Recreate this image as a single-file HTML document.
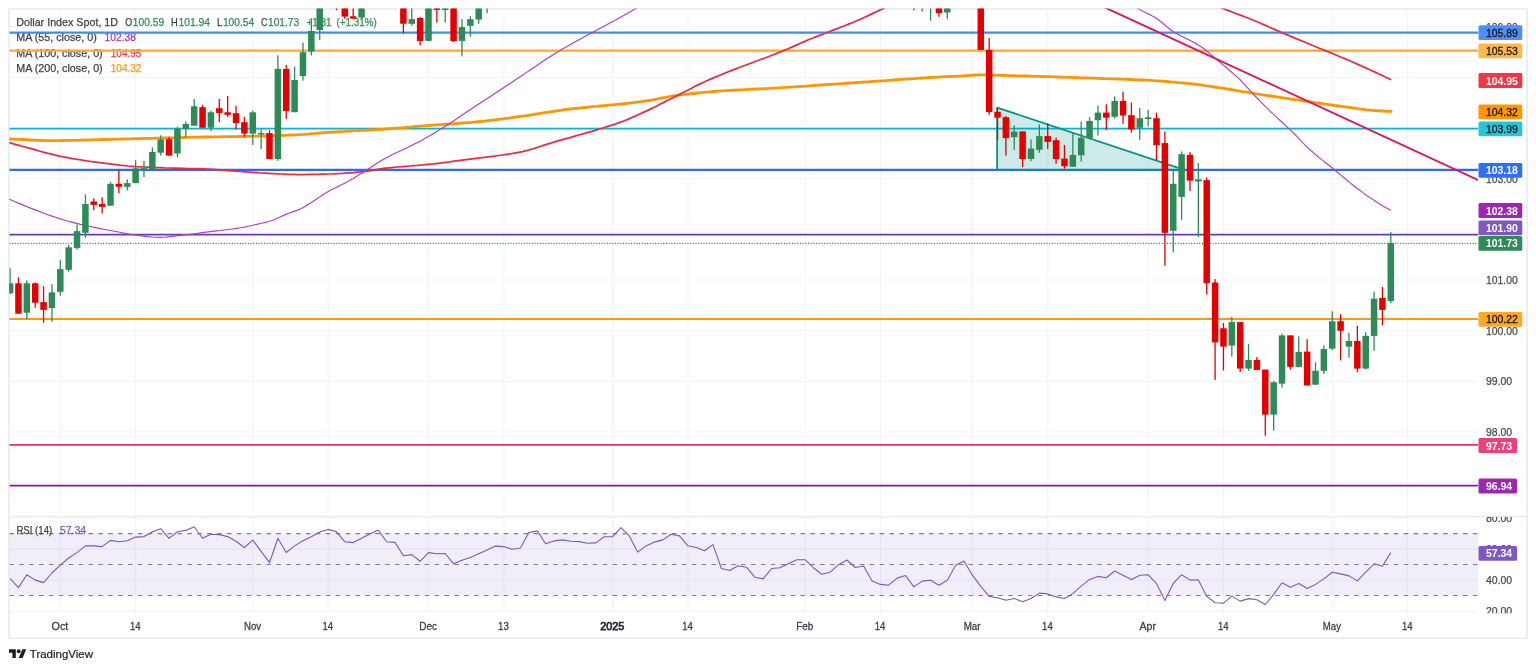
<!DOCTYPE html>
<html lang="en"><head><meta charset="utf-8"><title>Dollar Index Spot, 1D</title>
<style>html,body{margin:0;padding:0;background:#fff}body{width:1536px;height:670px;overflow:hidden;font-family:"Liberation Sans",sans-serif}svg{display:block;will-change:transform}text{font-family:"Liberation Sans",sans-serif}</style>
</head><body>
<svg width="1536" height="670" viewBox="0 0 1536 670">
<defs>
<clipPath id="cm"><rect x="9.3" y="8.5" width="1468.7" height="507.5"/></clipPath>
<clipPath id="cr"><rect x="9.3" y="517.0" width="1468.7" height="95.0"/></clipPath>
<clipPath id="ca"><rect x="1478.0" y="8.5" width="50" height="507.5"/></clipPath>
<clipPath id="cb"><rect x="1478.0" y="517.0" width="50" height="96.29999999999995"/></clipPath>
</defs>
<rect width="1536" height="670" fill="#fff"/>
<rect x="9" y="9" width="1518" height="629.2" fill="none" stroke="#eceef3" stroke-width="2"/>
<line x1="9.5" y1="516.5" x2="1526.5" y2="516.5" stroke="#e3e6ee" stroke-width="1.1"/>
<g stroke="#f1f3f5" stroke-width="1">
<line x1="60.4" y1="8.5" x2="60.4" y2="612.0"/>
<line x1="135.7" y1="8.5" x2="135.7" y2="612.0"/>
<line x1="252.9" y1="8.5" x2="252.9" y2="612.0"/>
<line x1="328.2" y1="8.5" x2="328.2" y2="612.0"/>
<line x1="428.6" y1="8.5" x2="428.6" y2="612.0"/>
<line x1="503.9" y1="8.5" x2="503.9" y2="612.0"/>
<line x1="612.7" y1="8.5" x2="612.7" y2="612.0"/>
<line x1="688.0" y1="8.5" x2="688.0" y2="612.0"/>
<line x1="805.2" y1="8.5" x2="805.2" y2="612.0"/>
<line x1="880.5" y1="8.5" x2="880.5" y2="612.0"/>
<line x1="972.5" y1="8.5" x2="972.5" y2="612.0"/>
<line x1="1047.8" y1="8.5" x2="1047.8" y2="612.0"/>
<line x1="1148.2" y1="8.5" x2="1148.2" y2="612.0"/>
<line x1="1223.6" y1="8.5" x2="1223.6" y2="612.0"/>
<line x1="1332.3" y1="8.5" x2="1332.3" y2="612.0"/>
<line x1="1407.6" y1="8.5" x2="1407.6" y2="612.0"/>
<line x1="9.3" y1="482.5" x2="1478.0" y2="482.5"/>
<line x1="9.3" y1="431.9" x2="1478.0" y2="431.9"/>
<line x1="9.3" y1="381.3" x2="1478.0" y2="381.3"/>
<line x1="9.3" y1="330.6" x2="1478.0" y2="330.6"/>
<line x1="9.3" y1="280.0" x2="1478.0" y2="280.0"/>
<line x1="9.3" y1="229.4" x2="1478.0" y2="229.4"/>
<line x1="9.3" y1="178.8" x2="1478.0" y2="178.8"/>
<line x1="9.3" y1="128.1" x2="1478.0" y2="128.1"/>
<line x1="9.3" y1="77.5" x2="1478.0" y2="77.5"/>
<line x1="9.3" y1="26.9" x2="1478.0" y2="26.9"/>
<line x1="9.3" y1="518.4" x2="1478.0" y2="518.4"/>
<line x1="9.3" y1="549" x2="1478.0" y2="549"/>
<line x1="9.3" y1="580.2" x2="1478.0" y2="580.2"/>
<line x1="9.3" y1="611.3" x2="1478.0" y2="611.3"/>
</g>
<g>
<text x="16.2" y="26.1" font-size="11.3" fill="#3c3f48" textLength="101.9" lengthAdjust="spacingAndGlyphs" stroke="#3c3f48" stroke-width="0.25">Dollar Index Spot, 1D</text>
<text x="125.3" y="26.1" font-size="11.3" fill="#3c3f48" textLength="6.9" lengthAdjust="spacingAndGlyphs" stroke="#3c3f48" stroke-width="0.25">O</text>
<text x="132.8" y="26.1" font-size="11.3" fill="#2e8b57" textLength="31.3" lengthAdjust="spacingAndGlyphs" stroke="#2e8b57" stroke-width="0.25">100.59</text>
<text x="171.0" y="26.1" font-size="11.3" fill="#3c3f48" textLength="6.8" lengthAdjust="spacingAndGlyphs" stroke="#3c3f48" stroke-width="0.25">H</text>
<text x="178.4" y="26.1" font-size="11.3" fill="#2e8b57" textLength="31.7" lengthAdjust="spacingAndGlyphs" stroke="#2e8b57" stroke-width="0.25">101.94</text>
<text x="217.0" y="26.1" font-size="11.3" fill="#3c3f48" textLength="5.3" lengthAdjust="spacingAndGlyphs" stroke="#3c3f48" stroke-width="0.25">L</text>
<text x="222.9" y="26.1" font-size="11.3" fill="#2e8b57" textLength="31.3" lengthAdjust="spacingAndGlyphs" stroke="#2e8b57" stroke-width="0.25">100.54</text>
<text x="260.9" y="26.1" font-size="11.3" fill="#3c3f48" textLength="6.5" lengthAdjust="spacingAndGlyphs" stroke="#3c3f48" stroke-width="0.25">C</text>
<text x="268.0" y="26.1" font-size="11.3" fill="#2e8b57" textLength="31.1" lengthAdjust="spacingAndGlyphs" stroke="#2e8b57" stroke-width="0.25">101.73</text>
<text x="306.4" y="26.1" font-size="11.3" fill="#2e8b57" textLength="25.3" lengthAdjust="spacingAndGlyphs" stroke="#2e8b57" stroke-width="0.25">+1.31</text>
<text x="336.5" y="26.1" font-size="11.3" fill="#2e8b57" textLength="40.4" lengthAdjust="spacingAndGlyphs" stroke="#2e8b57" stroke-width="0.25">(+1.31%)</text>
<text x="16.2" y="41.4" font-size="11.3" fill="#3c3f48" textLength="80.6" lengthAdjust="spacingAndGlyphs" stroke="#3c3f48" stroke-width="0.25">MA (55, close, 0)</text>
<text x="104.6" y="41.4" font-size="11.3" fill="#a436b8" textLength="31.3" lengthAdjust="spacingAndGlyphs" stroke="#a436b8" stroke-width="0.25">102.38</text>
<text x="16.2" y="56.8" font-size="11.3" fill="#3c3f48" textLength="86.5" lengthAdjust="spacingAndGlyphs" stroke="#3c3f48" stroke-width="0.25">MA (100, close, 0)</text>
<text x="110.8" y="56.8" font-size="11.3" fill="#f23645" textLength="30.5" lengthAdjust="spacingAndGlyphs" stroke="#f23645" stroke-width="0.25">104.95</text>
<text x="16.2" y="72.1" font-size="11.3" fill="#3c3f48" textLength="86.5" lengthAdjust="spacingAndGlyphs" stroke="#3c3f48" stroke-width="0.25">MA (200, close, 0)</text>
<text x="110.8" y="72.1" font-size="11.3" fill="#ff9800" textLength="30.5" lengthAdjust="spacingAndGlyphs" stroke="#ff9800" stroke-width="0.25">104.32</text>
</g>
<g clip-path="url(#cm)">
<line x1="9.3" y1="32.60" x2="1478.0" y2="32.60" stroke="#428bf5" stroke-width="2.3"/>
<line x1="9.3" y1="50.70" x2="1478.0" y2="50.70" stroke="#ffa72f" stroke-width="2.3"/>
<line x1="9.3" y1="128.60" x2="1478.0" y2="128.60" stroke="#05b7cf" stroke-width="1.6"/>
<line x1="9.3" y1="169.90" x2="1478.0" y2="169.90" stroke="#2d69f5" stroke-width="2.1"/>
<line x1="9.3" y1="234.70" x2="1478.0" y2="234.70" stroke="#673ab7" stroke-width="1.7"/>
<line x1="9.3" y1="243.40" x2="1478.0" y2="243.40" stroke="#2e8b57" stroke-width="1.1" stroke-dasharray="1.1 1.58"/>
<line x1="9.3" y1="319.00" x2="1478.0" y2="319.00" stroke="#ff980a" stroke-width="1.8"/>
<line x1="9.3" y1="444.95" x2="1478.0" y2="444.95" stroke="#e82d69" stroke-width="1.8"/>
<line x1="9.3" y1="485.55" x2="1478.0" y2="485.55" stroke="#8e12a4" stroke-width="1.8"/>
<polygon points="997.1,107.6 997.1,169.8 1184.3,169.8" fill="#009688" fill-opacity="0.2" stroke="#069485" stroke-width="1.75" stroke-linejoin="round"/>
<polyline points="-5.0,138.5 -1.0,138.6 3.0,138.7 7.0,138.8 11.0,139.0 15.1,139.1 19.1,139.3 23.1,139.5 27.1,139.7 31.1,140.0 35.1,140.1 39.1,140.3 43.1,140.5 47.2,140.6 51.2,140.6 55.2,140.6 59.2,140.6 63.2,140.5 67.2,140.4 71.2,140.4 75.2,140.3 79.2,140.2 83.3,140.0 87.3,139.9 91.3,139.8 95.3,139.7 99.3,139.6 103.3,139.5 107.3,139.4 111.3,139.3 115.4,139.2 119.4,139.1 123.4,139.0 127.4,138.9 131.4,138.8 135.4,138.7 139.4,138.6 143.4,138.5 147.4,138.4 151.5,138.3 155.5,138.2 159.5,138.1 163.5,138.0 167.5,137.9 171.5,137.8 175.5,137.7 179.5,137.6 183.6,137.5 187.6,137.4 191.6,137.3 195.6,137.2 199.6,137.1 203.6,137.0 207.6,137.0 211.6,136.9 215.6,136.8 219.7,136.8 223.7,136.7 227.7,136.7 231.7,136.6 235.7,136.6 239.7,136.5 243.7,136.4 247.7,136.4 251.8,136.3 255.8,136.2 259.8,136.1 263.8,136.0 267.8,135.9 271.8,135.8 275.8,135.6 279.8,135.5 283.8,135.3 287.9,135.2 291.9,135.0 295.9,134.8 299.9,134.6 303.9,134.4 307.9,134.1 311.9,133.7 315.9,133.4 320.0,133.0 324.0,132.7 328.0,132.4 332.0,132.1 336.0,131.8 340.0,131.6 344.0,131.4 348.0,131.1 352.0,130.9 356.1,130.7 360.1,130.5 364.1,130.3 368.1,130.0 372.1,129.8 376.1,129.6 380.1,129.3 384.1,129.1 388.2,128.8 392.2,128.5 396.2,128.2 400.2,127.9 404.2,127.6 408.2,127.2 412.2,126.9 416.2,126.5 420.2,126.1 424.3,125.8 428.3,125.5 432.3,125.2 436.3,124.9 440.3,124.6 444.3,124.3 448.3,124.0 452.3,123.8 456.4,123.5 460.4,123.2 464.4,122.9 468.4,122.6 472.4,122.3 476.4,121.9 480.4,121.5 484.4,121.1 488.4,120.6 492.5,120.1 496.5,119.6 500.5,119.1 504.5,118.6 508.5,118.1 512.5,117.5 516.5,117.0 520.5,116.4 524.6,115.9 528.6,115.3 532.6,114.7 536.6,114.0 540.6,113.4 544.6,112.7 548.6,112.1 552.6,111.5 556.6,110.8 560.7,110.3 564.7,109.7 568.7,109.2 572.7,108.7 576.7,108.3 580.7,107.9 584.7,107.5 588.7,107.1 592.8,106.7 596.8,106.4 600.8,106.0 604.8,105.6 608.8,105.2 612.8,104.8 616.8,104.4 620.8,104.0 624.8,103.6 628.9,103.1 632.9,102.7 636.9,102.2 640.9,101.7 644.9,101.1 648.9,100.5 652.9,99.8 656.9,99.0 661.0,98.2 665.0,97.5 669.0,96.7 673.0,96.0 677.0,95.4 681.0,94.9 685.0,94.4 689.0,93.9 693.0,93.5 697.1,93.0 701.1,92.6 705.1,92.2 709.1,91.9 713.1,91.5 717.1,91.2 721.1,90.9 725.1,90.7 729.2,90.4 733.2,90.2 737.2,90.0 741.2,89.8 745.2,89.6 749.2,89.4 753.2,89.2 757.2,89.0 761.3,88.8 765.3,88.6 769.3,88.4 773.3,88.1 777.3,87.9 781.3,87.6 785.3,87.4 789.3,87.1 793.3,86.9 797.4,86.6 801.4,86.3 805.4,86.1 809.4,85.8 813.4,85.5 817.4,85.2 821.4,85.0 825.4,84.7 829.5,84.4 833.5,84.1 837.5,83.9 841.5,83.6 845.5,83.3 849.5,83.0 853.5,82.8 857.5,82.5 861.5,82.2 865.6,81.9 869.6,81.7 873.6,81.4 877.6,81.1 881.6,80.8 885.6,80.6 889.6,80.3 893.6,80.0 897.7,79.7 901.7,79.4 905.7,79.1 909.7,78.8 913.7,78.6 917.7,78.3 921.7,78.0 925.7,77.8 929.7,77.5 933.8,77.3 937.8,77.1 941.8,76.9 945.8,76.7 949.8,76.5 953.8,76.3 957.8,76.1 961.8,75.9 965.9,75.6 969.9,75.3 973.9,75.0 977.9,74.8 981.9,74.8 985.9,74.9 989.9,75.0 993.9,75.1 997.9,75.2 1002.0,75.3 1006.0,75.5 1010.0,75.6 1014.0,75.7 1018.0,75.8 1022.0,75.9 1026.0,76.0 1030.0,76.1 1034.1,76.3 1038.1,76.4 1042.1,76.5 1046.1,76.6 1050.1,76.7 1054.1,76.9 1058.1,77.0 1062.1,77.1 1066.1,77.3 1070.2,77.4 1074.2,77.5 1078.2,77.6 1082.2,77.8 1086.2,77.9 1090.2,78.1 1094.2,78.2 1098.2,78.3 1102.3,78.5 1106.3,78.6 1110.3,78.8 1114.3,78.9 1118.3,79.0 1122.3,79.2 1126.3,79.3 1130.3,79.5 1134.3,79.7 1138.4,79.8 1142.4,80.0 1146.4,80.2 1150.4,80.4 1154.4,80.7 1158.4,80.9 1162.4,81.2 1166.4,81.5 1170.5,81.9 1174.5,82.2 1178.5,82.6 1182.5,82.9 1186.5,83.3 1190.5,83.7 1194.5,84.2 1198.5,84.7 1202.5,85.2 1206.6,85.8 1210.6,86.4 1214.6,87.0 1218.6,87.6 1222.6,88.2 1226.6,88.9 1230.6,89.5 1234.6,90.2 1238.7,90.9 1242.7,91.6 1246.7,92.2 1250.7,92.9 1254.7,93.6 1258.7,94.2 1262.7,94.8 1266.7,95.4 1270.7,96.0 1274.8,96.6 1278.8,97.2 1282.8,97.8 1286.8,98.4 1290.8,99.0 1294.8,99.6 1298.8,100.2 1302.8,100.8 1306.9,101.4 1310.9,102.0 1314.9,102.6 1318.9,103.1 1322.9,103.7 1326.9,104.3 1330.9,104.9 1334.9,105.5 1338.9,106.0 1343.0,106.6 1347.0,107.1 1351.0,107.6 1355.0,108.2 1359.0,108.8 1363.0,109.3 1367.0,109.8 1371.0,110.2 1375.1,110.5 1379.1,110.8 1383.1,111.0 1387.1,111.3 1391.1,111.4" fill="none" stroke="#ff9500" stroke-width="2.8" stroke-linecap="round" stroke-linejoin="round"/>
<polyline points="-5.0,139.0 -1.0,140.0 3.1,141.0 7.1,142.1 11.1,143.2 15.1,144.3 19.2,145.4 23.2,146.5 27.2,147.6 31.2,148.7 35.3,149.8 39.3,151.0 43.3,152.1 47.3,153.2 51.4,154.2 55.4,155.2 59.4,156.1 63.5,156.9 67.5,157.7 71.5,158.4 75.5,159.1 79.6,159.7 83.6,160.4 87.6,161.0 91.6,161.6 95.7,162.1 99.7,162.7 103.7,163.2 107.7,163.7 111.8,164.2 115.8,164.7 119.8,165.2 123.8,165.6 127.9,166.0 131.9,166.3 135.9,166.6 140.0,166.8 144.0,167.0 148.0,167.2 152.0,167.4 156.1,167.6 160.1,167.7 164.1,167.9 168.1,168.0 172.2,168.1 176.2,168.2 180.2,168.3 184.2,168.4 188.3,168.5 192.3,168.5 196.3,168.6 200.4,168.7 204.4,168.9 208.4,169.1 212.4,169.3 216.5,169.6 220.5,169.9 224.5,170.3 228.5,170.6 232.6,170.9 236.6,171.3 240.6,171.5 244.6,171.8 248.7,172.1 252.7,172.4 256.7,172.7 260.8,173.0 264.8,173.2 268.8,173.4 272.8,173.6 276.9,173.8 280.9,174.0 284.9,174.2 288.9,174.3 293.0,174.4 297.0,174.5 301.0,174.5 305.0,174.5 309.1,174.4 313.1,174.4 317.1,174.3 321.2,174.2 325.2,174.1 329.2,174.0 333.2,173.9 337.3,173.7 341.3,173.5 345.3,173.2 349.3,172.9 353.4,172.6 357.4,172.2 361.4,171.8 365.4,171.4 369.5,170.8 373.5,170.2 377.5,169.4 381.5,168.7 385.6,168.2 389.6,167.8 393.6,167.4 397.7,167.0 401.7,166.7 405.7,166.3 409.7,166.0 413.8,165.7 417.8,165.4 421.8,165.0 425.8,164.6 429.9,164.2 433.9,163.8 437.9,163.3 441.9,162.8 446.0,162.3 450.0,161.8 454.0,161.2 458.1,160.7 462.1,160.2 466.1,159.6 470.1,159.1 474.2,158.6 478.2,158.1 482.2,157.6 486.2,157.1 490.3,156.6 494.3,156.1 498.3,155.5 502.3,155.0 506.4,154.4 510.4,153.8 514.4,153.1 518.5,152.4 522.5,151.6 526.5,150.6 530.5,149.5 534.6,148.3 538.6,147.0 542.6,145.7 546.6,144.4 550.7,143.1 554.7,141.9 558.7,140.7 562.7,139.6 566.8,138.4 570.8,137.3 574.8,136.2 578.8,135.0 582.9,133.9 586.9,132.7 590.9,131.6 595.0,130.4 599.0,129.2 603.0,128.0 607.0,126.7 611.1,125.4 615.1,124.1 619.1,122.7 623.1,121.2 627.2,119.6 631.2,117.9 635.2,116.1 639.2,114.3 643.3,112.4 647.3,110.6 651.3,108.6 655.4,106.7 659.4,104.6 663.4,102.6 667.4,100.5 671.5,98.5 675.5,96.4 679.5,94.4 683.5,92.3 687.6,90.3 691.6,88.2 695.6,86.1 699.6,84.1 703.7,82.2 707.7,80.3 711.7,78.6 715.8,76.9 719.8,75.2 723.8,73.6 727.8,72.0 731.9,70.4 735.9,68.9 739.9,67.3 743.9,65.8 748.0,64.2 752.0,62.7 756.0,61.2 760.0,59.7 764.1,58.2 768.1,56.7 772.1,55.2 776.2,53.6 780.2,52.0 784.2,50.4 788.2,48.7 792.3,46.9 796.3,45.1 800.3,43.3 804.3,41.6 808.4,39.8 812.4,38.2 816.4,36.6 820.4,35.1 824.5,33.5 828.5,32.0 832.5,30.4 836.5,28.9 840.6,27.3 844.6,25.7 848.6,24.1 852.7,22.5 856.7,20.8 860.7,19.0 864.7,17.2 868.8,15.4 872.8,13.4 876.8,11.5 880.8,9.6 884.9,7.7 888.9,5.8 892.9,3.8 896.9,1.9 901.0,-0.0 905.0,-2.0" fill="none" stroke="#ef2a40" stroke-width="1.75" stroke-linejoin="round"/>
<polyline points="1196.0,-3.0 1200.2,-1.2 1204.3,0.6 1208.5,2.4 1212.6,4.2 1216.8,5.9 1220.9,7.6 1225.1,9.3 1229.2,10.9 1233.4,12.5 1237.5,14.1 1241.7,15.6 1245.8,17.2 1250.0,18.8 1254.1,20.5 1258.3,22.3 1262.4,24.1 1266.6,25.9 1270.7,27.7 1274.9,29.6 1279.0,31.4 1283.2,33.2 1287.3,34.9 1291.5,36.6 1295.6,38.4 1299.8,40.1 1303.9,41.8 1308.1,43.5 1312.2,45.3 1316.4,47.0 1320.5,48.7 1324.7,50.4 1328.8,52.1 1333.0,53.8 1337.1,55.5 1341.3,57.2 1345.4,58.9 1349.6,60.7 1353.7,62.5 1357.9,64.4 1362.0,66.2 1366.2,68.1 1370.3,70.0 1374.5,71.9 1378.6,73.8 1382.8,75.8 1386.9,77.8 1391.1,79.8" fill="none" stroke="#ef2a40" stroke-width="1.75" stroke-linejoin="round"/>
<polyline points="-5.0,193.0 -1.0,194.8 3.0,196.5 7.1,198.3 11.1,200.0 15.1,201.7 19.1,203.4 23.2,205.1 27.2,206.8 31.2,208.4 35.2,209.9 39.3,211.5 43.3,213.0 47.3,214.5 51.3,215.9 55.4,217.3 59.4,218.6 63.4,219.8 67.4,221.0 71.5,222.1 75.5,223.1 79.5,224.1 83.5,225.1 87.6,226.0 91.6,226.8 95.6,227.6 99.6,228.4 103.7,229.2 107.7,230.0 111.7,230.7 115.7,231.5 119.8,232.3 123.8,233.1 127.8,233.8 131.8,234.5 135.9,235.0 139.9,235.6 143.9,236.1 147.9,236.6 152.0,237.0 156.0,237.3 160.0,237.4 164.0,237.3 168.0,236.9 172.1,236.4 176.1,235.9 180.1,235.4 184.1,234.9 188.2,234.5 192.2,234.0 196.2,233.5 200.2,232.9 204.3,232.4 208.3,231.9 212.3,231.4 216.3,230.9 220.4,230.5 224.4,230.0 228.4,229.5 232.4,229.0 236.5,228.4 240.5,227.8 244.5,227.1 248.5,226.2 252.6,225.3 256.6,224.4 260.6,223.5 264.6,222.6 268.7,221.5 272.7,220.2 276.7,218.5 280.7,216.7 284.8,214.9 288.8,213.3 292.8,211.9 296.8,210.4 300.9,208.7 304.9,206.6 308.9,204.1 312.9,201.4 317.0,198.7 321.0,195.9 325.0,193.4 329.0,191.1 333.0,188.9 337.1,186.9 341.1,184.9 345.1,182.9 349.1,180.8 353.2,178.5 357.2,176.0 361.2,173.5 365.2,171.0 369.3,168.4 373.3,165.7 377.3,163.0 381.3,160.5 385.4,158.3 389.4,156.2 393.4,154.1 397.4,152.2 401.5,150.3 405.5,148.4 409.5,146.5 413.5,144.5 417.6,142.5 421.6,140.4 425.6,138.1 429.6,135.8 433.7,133.4 437.7,131.0 441.7,128.5 445.7,126.0 449.8,123.4 453.8,120.7 457.8,118.0 461.8,115.2 465.9,112.5 469.9,109.9 473.9,107.2 477.9,104.6 482.0,101.9 486.0,99.3 490.0,96.7 494.0,94.0 498.0,91.4 502.1,88.7 506.1,86.1 510.1,83.5 514.1,80.8 518.2,78.1 522.2,75.4 526.2,72.6 530.2,69.9 534.3,67.2 538.3,64.5 542.3,61.8 546.3,59.1 550.4,56.5 554.4,54.0 558.4,51.5 562.4,49.1 566.5,46.8 570.5,44.5 574.5,42.2 578.5,40.0 582.6,37.8 586.6,35.6 590.6,33.4 594.6,31.2 598.7,29.0 602.7,26.9 606.7,24.8 610.7,22.6 614.8,20.5 618.8,18.3 622.8,16.0 626.8,13.7 630.9,11.4 634.9,9.1 638.9,6.7 642.9,4.3 647.0,1.9 651.0,-0.5 655.0,-3.0" fill="none" stroke="#ab40bf" stroke-width="1.15" stroke-linejoin="round"/>
<polyline points="1122.0,-3.0 1126.1,0.2 1130.2,3.2 1134.2,6.0 1138.3,8.6 1142.4,10.9 1146.5,12.9 1150.5,14.9 1154.6,17.2 1158.7,20.0 1162.8,23.3 1166.8,26.8 1170.9,30.0 1175.0,32.7 1179.1,35.0 1183.1,37.1 1187.2,39.1 1191.3,41.1 1195.4,43.3 1199.4,45.7 1203.5,48.5 1207.6,51.7 1211.7,55.1 1215.7,58.6 1219.8,62.1 1223.9,65.6 1228.0,69.0 1232.0,72.5 1236.1,76.1 1240.2,79.9 1244.3,84.1 1248.3,88.6 1252.4,93.2 1256.5,97.5 1260.6,101.7 1264.7,105.8 1268.7,109.8 1272.8,113.7 1276.9,117.6 1281.0,121.3 1285.0,125.0 1289.1,128.8 1293.2,132.7 1297.3,136.9 1301.3,141.2 1305.4,145.3 1309.5,149.3 1313.6,152.9 1317.6,156.3 1321.7,159.6 1325.8,162.7 1329.9,166.0 1333.9,169.3 1338.0,172.7 1342.1,176.1 1346.2,179.5 1350.2,182.9 1354.3,186.2 1358.4,189.3 1362.5,192.4 1366.5,195.3 1370.6,198.1 1374.7,200.8 1378.8,203.5 1382.8,205.9 1386.9,208.2 1391.0,210.2" fill="none" stroke="#ab40bf" stroke-width="1.15" stroke-linejoin="round"/>
<line x1="1095" y1="2.94" x2="1479" y2="180.42" stroke="#e81054" stroke-width="1.9"/>
<rect x="9.44" y="268.2" width="1.3" height="25.8" fill="#2e8b57"/>
<rect x="6.84" y="283.3" width="6.5" height="10.0" fill="#2e8b57"/>
<rect x="17.81" y="277.1" width="1.3" height="36.6" fill="#e50000"/>
<rect x="15.21" y="283.3" width="6.5" height="30.4" fill="#e50000"/>
<rect x="26.18" y="280.4" width="1.3" height="38.6" fill="#2e8b57"/>
<rect x="23.58" y="283.3" width="6.5" height="29.4" fill="#2e8b57"/>
<rect x="34.55" y="282.4" width="1.3" height="25.3" fill="#e50000"/>
<rect x="31.95" y="283.3" width="6.5" height="19.4" fill="#e50000"/>
<rect x="42.91" y="286.2" width="1.3" height="36.6" fill="#e50000"/>
<rect x="40.31" y="302.1" width="6.5" height="7.8" fill="#e50000"/>
<rect x="51.28" y="284.1" width="1.3" height="37.7" fill="#2e8b57"/>
<rect x="48.68" y="292.4" width="6.5" height="15.7" fill="#2e8b57"/>
<rect x="59.65" y="260.1" width="1.3" height="35.5" fill="#2e8b57"/>
<rect x="57.05" y="269.1" width="6.5" height="22.7" fill="#2e8b57"/>
<rect x="68.02" y="245.0" width="1.3" height="26.6" fill="#2e8b57"/>
<rect x="65.42" y="247.3" width="6.5" height="22.5" fill="#2e8b57"/>
<rect x="76.39" y="224.4" width="1.3" height="25.2" fill="#2e8b57"/>
<rect x="73.79" y="231.1" width="6.5" height="16.8" fill="#2e8b57"/>
<rect x="84.75" y="194.3" width="1.3" height="43.5" fill="#2e8b57"/>
<rect x="82.15" y="204.0" width="6.5" height="28.8" fill="#2e8b57"/>
<rect x="93.12" y="198.2" width="1.3" height="12.0" fill="#e50000"/>
<rect x="90.52" y="201.5" width="6.5" height="3.4" fill="#e50000"/>
<rect x="101.49" y="197.2" width="1.3" height="16.4" fill="#e50000"/>
<rect x="98.89" y="203.9" width="6.5" height="3.0" fill="#e50000"/>
<rect x="109.86" y="182.1" width="1.3" height="23.6" fill="#2e8b57"/>
<rect x="107.26" y="183.8" width="6.5" height="21.9" fill="#2e8b57"/>
<rect x="118.23" y="170.1" width="1.3" height="23.1" fill="#e50000"/>
<rect x="115.63" y="183.8" width="6.5" height="3.0" fill="#e50000"/>
<rect x="126.59" y="179.3" width="1.3" height="11.2" fill="#2e8b57"/>
<rect x="123.99" y="183.1" width="6.5" height="3.7" fill="#2e8b57"/>
<rect x="134.96" y="160.1" width="1.3" height="23.0" fill="#2e8b57"/>
<rect x="132.36" y="168.4" width="6.5" height="14.7" fill="#2e8b57"/>
<rect x="143.33" y="160.9" width="1.3" height="16.2" fill="#2e8b57"/>
<rect x="140.73" y="168.1" width="6.5" height="1.2" fill="#2e8b57"/>
<rect x="151.70" y="147.4" width="1.3" height="22.4" fill="#2e8b57"/>
<rect x="149.10" y="152.0" width="6.5" height="17.6" fill="#2e8b57"/>
<rect x="160.07" y="135.3" width="1.3" height="20.3" fill="#2e8b57"/>
<rect x="157.47" y="139.4" width="6.5" height="13.3" fill="#2e8b57"/>
<rect x="168.43" y="136.9" width="1.3" height="18.7" fill="#e50000"/>
<rect x="165.83" y="139.1" width="6.5" height="16.5" fill="#e50000"/>
<rect x="176.80" y="126.9" width="1.3" height="30.1" fill="#2e8b57"/>
<rect x="174.20" y="128.6" width="6.5" height="24.9" fill="#2e8b57"/>
<rect x="185.17" y="121.4" width="1.3" height="15.9" fill="#2e8b57"/>
<rect x="182.57" y="124.0" width="6.5" height="4.9" fill="#2e8b57"/>
<rect x="193.54" y="99.0" width="1.3" height="26.7" fill="#2e8b57"/>
<rect x="190.94" y="106.3" width="6.5" height="19.4" fill="#2e8b57"/>
<rect x="201.91" y="104.8" width="1.3" height="22.9" fill="#e50000"/>
<rect x="199.31" y="107.2" width="6.5" height="20.5" fill="#e50000"/>
<rect x="210.27" y="110.5" width="1.3" height="20.6" fill="#2e8b57"/>
<rect x="207.67" y="112.3" width="6.5" height="15.4" fill="#2e8b57"/>
<rect x="218.64" y="99.0" width="1.3" height="23.2" fill="#e50000"/>
<rect x="216.04" y="108.2" width="6.5" height="4.8" fill="#e50000"/>
<rect x="227.01" y="96.0" width="1.3" height="20.9" fill="#e50000"/>
<rect x="224.41" y="112.3" width="6.5" height="2.5" fill="#e50000"/>
<rect x="235.38" y="106.0" width="1.3" height="23.4" fill="#e50000"/>
<rect x="232.78" y="113.2" width="6.5" height="9.8" fill="#e50000"/>
<rect x="243.75" y="116.9" width="1.3" height="20.0" fill="#e50000"/>
<rect x="241.15" y="122.2" width="6.5" height="11.4" fill="#e50000"/>
<rect x="252.11" y="110.5" width="1.3" height="34.4" fill="#2e8b57"/>
<rect x="249.51" y="112.3" width="6.5" height="21.3" fill="#2e8b57"/>
<rect x="260.48" y="129.4" width="1.3" height="19.7" fill="#2e8b57"/>
<rect x="257.88" y="133.1" width="6.5" height="1.4" fill="#2e8b57"/>
<rect x="268.85" y="130.2" width="1.3" height="28.8" fill="#e50000"/>
<rect x="266.25" y="133.1" width="6.5" height="25.9" fill="#e50000"/>
<rect x="277.22" y="55.2" width="1.3" height="105.6" fill="#2e8b57"/>
<rect x="274.62" y="68.9" width="6.5" height="90.1" fill="#2e8b57"/>
<rect x="285.59" y="64.9" width="1.3" height="54.0" fill="#e50000"/>
<rect x="282.99" y="69.0" width="6.5" height="42.0" fill="#e50000"/>
<rect x="293.95" y="66.7" width="1.3" height="45.5" fill="#2e8b57"/>
<rect x="291.35" y="80.0" width="6.5" height="32.2" fill="#2e8b57"/>
<rect x="302.32" y="42.6" width="1.3" height="38.1" fill="#2e8b57"/>
<rect x="299.72" y="52.2" width="6.5" height="23.8" fill="#2e8b57"/>
<rect x="310.69" y="18.2" width="1.3" height="37.2" fill="#2e8b57"/>
<rect x="308.09" y="31.0" width="6.5" height="20.6" fill="#2e8b57"/>
<rect x="319.06" y="-10.0" width="1.3" height="50.1" fill="#2e8b57"/>
<rect x="316.46" y="-10.0" width="6.5" height="40.0" fill="#2e8b57"/>
<rect x="335.79" y="-10.0" width="1.3" height="20.2" fill="#e50000"/>
<rect x="333.19" y="-10.0" width="6.5" height="10.0" fill="#e50000"/>
<rect x="344.16" y="-10.0" width="1.3" height="28.8" fill="#e50000"/>
<rect x="341.56" y="-10.0" width="6.5" height="26.6" fill="#e50000"/>
<rect x="352.53" y="-10.0" width="1.3" height="28.8" fill="#e50000"/>
<rect x="349.93" y="16.3" width="6.5" height="2.3" fill="#e50000"/>
<rect x="360.90" y="-10.0" width="1.3" height="28.8" fill="#2e8b57"/>
<rect x="358.30" y="-10.0" width="6.5" height="27.6" fill="#2e8b57"/>
<rect x="402.74" y="-10.0" width="1.3" height="43.5" fill="#e50000"/>
<rect x="400.14" y="-10.0" width="6.5" height="33.7" fill="#e50000"/>
<rect x="411.11" y="-10.0" width="1.3" height="35.8" fill="#2e8b57"/>
<rect x="408.51" y="19.2" width="6.5" height="4.6" fill="#2e8b57"/>
<rect x="419.47" y="16.9" width="1.3" height="28.5" fill="#e50000"/>
<rect x="416.87" y="18.0" width="6.5" height="23.0" fill="#e50000"/>
<rect x="427.84" y="-10.0" width="1.3" height="50.9" fill="#2e8b57"/>
<rect x="425.24" y="-10.0" width="6.5" height="50.9" fill="#2e8b57"/>
<rect x="436.21" y="-10.0" width="1.3" height="32.6" fill="#e50000"/>
<rect x="433.61" y="-10.0" width="6.5" height="19.9" fill="#e50000"/>
<rect x="444.58" y="-10.0" width="1.3" height="32.4" fill="#2e8b57"/>
<rect x="441.98" y="-10.0" width="6.5" height="20.0" fill="#2e8b57"/>
<rect x="452.95" y="-10.0" width="1.3" height="52.0" fill="#e50000"/>
<rect x="450.35" y="-10.0" width="6.5" height="51.1" fill="#e50000"/>
<rect x="461.31" y="19.1" width="1.3" height="37.4" fill="#2e8b57"/>
<rect x="458.71" y="27.1" width="6.5" height="13.8" fill="#2e8b57"/>
<rect x="469.68" y="16.2" width="1.3" height="20.5" fill="#2e8b57"/>
<rect x="467.08" y="19.2" width="6.5" height="6.6" fill="#2e8b57"/>
<rect x="478.05" y="-10.0" width="1.3" height="33.8" fill="#2e8b57"/>
<rect x="475.45" y="-10.0" width="6.5" height="29.5" fill="#2e8b57"/>
<rect x="486.42" y="-10.0" width="1.3" height="23.3" fill="#2e8b57"/>
<rect x="483.82" y="-10.0" width="6.5" height="10.0" fill="#2e8b57"/>
<rect x="913.19" y="-10.0" width="1.3" height="20.2" fill="#e50000"/>
<rect x="910.59" y="-10.0" width="6.5" height="10.0" fill="#e50000"/>
<rect x="921.55" y="-10.0" width="1.3" height="21.6" fill="#2e8b57"/>
<rect x="918.95" y="-10.0" width="6.5" height="10.0" fill="#2e8b57"/>
<rect x="929.92" y="-10.0" width="1.3" height="30.7" fill="#2e8b57"/>
<rect x="927.32" y="-10.0" width="6.5" height="10.0" fill="#2e8b57"/>
<rect x="938.29" y="-10.0" width="1.3" height="26.9" fill="#e50000"/>
<rect x="935.69" y="-10.0" width="6.5" height="23.2" fill="#e50000"/>
<rect x="946.66" y="-10.0" width="1.3" height="28.8" fill="#2e8b57"/>
<rect x="944.06" y="-10.0" width="6.5" height="22.5" fill="#2e8b57"/>
<rect x="980.13" y="-10.0" width="1.3" height="59.9" fill="#e50000"/>
<rect x="977.53" y="-10.0" width="6.5" height="59.9" fill="#e50000"/>
<rect x="988.50" y="38.0" width="1.3" height="76.8" fill="#e50000"/>
<rect x="985.90" y="49.9" width="6.5" height="62.2" fill="#e50000"/>
<rect x="996.87" y="108.1" width="1.3" height="31.8" fill="#e50000"/>
<rect x="994.27" y="111.8" width="6.5" height="5.9" fill="#e50000"/>
<rect x="1005.23" y="116.0" width="1.3" height="39.6" fill="#e50000"/>
<rect x="1002.63" y="117.2" width="6.5" height="20.9" fill="#e50000"/>
<rect x="1013.60" y="125.2" width="1.3" height="24.6" fill="#2e8b57"/>
<rect x="1011.00" y="131.5" width="6.5" height="5.7" fill="#2e8b57"/>
<rect x="1021.97" y="131.4" width="1.3" height="35.6" fill="#e50000"/>
<rect x="1019.37" y="131.4" width="6.5" height="27.6" fill="#e50000"/>
<rect x="1030.34" y="139.4" width="1.3" height="21.7" fill="#2e8b57"/>
<rect x="1027.74" y="148.6" width="6.5" height="10.4" fill="#2e8b57"/>
<rect x="1038.71" y="124.3" width="1.3" height="28.5" fill="#2e8b57"/>
<rect x="1036.11" y="136.1" width="6.5" height="13.7" fill="#2e8b57"/>
<rect x="1047.07" y="123.5" width="1.3" height="25.4" fill="#e50000"/>
<rect x="1044.47" y="136.1" width="6.5" height="5.8" fill="#e50000"/>
<rect x="1055.44" y="137.7" width="1.3" height="25.9" fill="#e50000"/>
<rect x="1052.84" y="140.2" width="6.5" height="18.8" fill="#e50000"/>
<rect x="1063.81" y="144.9" width="1.3" height="23.8" fill="#e50000"/>
<rect x="1061.21" y="158.6" width="6.5" height="7.6" fill="#e50000"/>
<rect x="1072.18" y="133.2" width="1.3" height="33.5" fill="#2e8b57"/>
<rect x="1069.58" y="154.9" width="6.5" height="11.8" fill="#2e8b57"/>
<rect x="1080.55" y="121.5" width="1.3" height="40.1" fill="#2e8b57"/>
<rect x="1077.95" y="137.7" width="6.5" height="17.6" fill="#2e8b57"/>
<rect x="1088.91" y="117.3" width="1.3" height="22.1" fill="#2e8b57"/>
<rect x="1086.31" y="121.0" width="6.5" height="17.2" fill="#2e8b57"/>
<rect x="1097.28" y="105.5" width="1.3" height="30.1" fill="#2e8b57"/>
<rect x="1094.68" y="112.6" width="6.5" height="7.6" fill="#2e8b57"/>
<rect x="1105.65" y="104.3" width="1.3" height="25.9" fill="#e50000"/>
<rect x="1103.05" y="112.6" width="6.5" height="5.1" fill="#e50000"/>
<rect x="1114.02" y="96.3" width="1.3" height="22.2" fill="#2e8b57"/>
<rect x="1111.42" y="100.9" width="6.5" height="15.9" fill="#2e8b57"/>
<rect x="1122.39" y="91.7" width="1.3" height="32.1" fill="#e50000"/>
<rect x="1119.79" y="100.9" width="6.5" height="14.6" fill="#e50000"/>
<rect x="1130.75" y="102.6" width="1.3" height="30.1" fill="#e50000"/>
<rect x="1128.15" y="115.2" width="6.5" height="14.2" fill="#e50000"/>
<rect x="1139.12" y="108.1" width="1.3" height="31.8" fill="#2e8b57"/>
<rect x="1136.52" y="118.2" width="6.5" height="9.5" fill="#2e8b57"/>
<rect x="1147.49" y="109.8" width="1.3" height="16.7" fill="#2e8b57"/>
<rect x="1144.89" y="117.3" width="6.5" height="1.7" fill="#2e8b57"/>
<rect x="1155.86" y="112.6" width="1.3" height="47.6" fill="#e50000"/>
<rect x="1153.26" y="118.2" width="6.5" height="27.0" fill="#e50000"/>
<rect x="1164.23" y="131.5" width="1.3" height="134.3" fill="#e50000"/>
<rect x="1161.63" y="143.1" width="6.5" height="89.7" fill="#e50000"/>
<rect x="1172.59" y="170.9" width="1.3" height="81.5" fill="#2e8b57"/>
<rect x="1169.99" y="183.8" width="6.5" height="47.0" fill="#2e8b57"/>
<rect x="1180.96" y="151.4" width="1.3" height="68.5" fill="#2e8b57"/>
<rect x="1178.36" y="154.2" width="6.5" height="42.7" fill="#2e8b57"/>
<rect x="1189.33" y="152.1" width="1.3" height="38.9" fill="#e50000"/>
<rect x="1186.73" y="154.8" width="6.5" height="25.8" fill="#e50000"/>
<rect x="1197.70" y="163.1" width="1.3" height="73.9" fill="#2e8b57"/>
<rect x="1195.10" y="179.3" width="6.5" height="2.2" fill="#2e8b57"/>
<rect x="1206.07" y="177.5" width="1.3" height="117.0" fill="#e50000"/>
<rect x="1203.47" y="180.1" width="6.5" height="103.1" fill="#e50000"/>
<rect x="1214.43" y="279.1" width="1.3" height="100.9" fill="#e50000"/>
<rect x="1211.83" y="282.5" width="6.5" height="59.9" fill="#e50000"/>
<rect x="1222.80" y="323.0" width="1.3" height="47.5" fill="#e50000"/>
<rect x="1220.20" y="328.3" width="6.5" height="18.3" fill="#e50000"/>
<rect x="1231.17" y="316.8" width="1.3" height="39.8" fill="#2e8b57"/>
<rect x="1228.57" y="322.1" width="6.5" height="23.5" fill="#2e8b57"/>
<rect x="1239.54" y="322.1" width="1.3" height="50.0" fill="#e50000"/>
<rect x="1236.94" y="322.1" width="6.5" height="46.5" fill="#e50000"/>
<rect x="1247.91" y="343.8" width="1.3" height="27.0" fill="#2e8b57"/>
<rect x="1245.31" y="359.9" width="6.5" height="8.7" fill="#2e8b57"/>
<rect x="1256.27" y="357.1" width="1.3" height="12.9" fill="#e50000"/>
<rect x="1253.67" y="359.9" width="6.5" height="10.1" fill="#e50000"/>
<rect x="1264.64" y="369.6" width="1.3" height="66.1" fill="#e50000"/>
<rect x="1262.04" y="369.6" width="6.5" height="45.0" fill="#e50000"/>
<rect x="1273.01" y="381.3" width="1.3" height="49.4" fill="#2e8b57"/>
<rect x="1270.41" y="382.2" width="6.5" height="32.4" fill="#2e8b57"/>
<rect x="1281.38" y="333.8" width="1.3" height="53.7" fill="#2e8b57"/>
<rect x="1278.78" y="335.4" width="6.5" height="48.3" fill="#2e8b57"/>
<rect x="1289.75" y="335.4" width="1.3" height="34.1" fill="#e50000"/>
<rect x="1287.15" y="335.4" width="6.5" height="31.5" fill="#e50000"/>
<rect x="1298.11" y="336.4" width="1.3" height="31.0" fill="#2e8b57"/>
<rect x="1295.51" y="351.9" width="6.5" height="15.0" fill="#2e8b57"/>
<rect x="1306.48" y="339.1" width="1.3" height="46.4" fill="#e50000"/>
<rect x="1303.88" y="351.6" width="6.5" height="33.9" fill="#e50000"/>
<rect x="1314.85" y="362.4" width="1.3" height="22.3" fill="#2e8b57"/>
<rect x="1312.25" y="370.8" width="6.5" height="13.9" fill="#2e8b57"/>
<rect x="1323.22" y="345.4" width="1.3" height="28.4" fill="#2e8b57"/>
<rect x="1320.62" y="349.1" width="6.5" height="21.7" fill="#2e8b57"/>
<rect x="1331.59" y="311.3" width="1.3" height="38.6" fill="#2e8b57"/>
<rect x="1328.99" y="321.3" width="6.5" height="27.4" fill="#2e8b57"/>
<rect x="1339.95" y="314.1" width="1.3" height="46.3" fill="#e50000"/>
<rect x="1337.35" y="321.3" width="6.5" height="9.5" fill="#e50000"/>
<rect x="1348.32" y="332.7" width="1.3" height="25.0" fill="#2e8b57"/>
<rect x="1345.72" y="341.0" width="6.5" height="5.6" fill="#2e8b57"/>
<rect x="1356.69" y="325.8" width="1.3" height="46.3" fill="#e50000"/>
<rect x="1354.09" y="341.0" width="6.5" height="27.6" fill="#e50000"/>
<rect x="1365.06" y="332.2" width="1.3" height="37.3" fill="#2e8b57"/>
<rect x="1362.46" y="335.8" width="6.5" height="32.8" fill="#2e8b57"/>
<rect x="1373.43" y="291.5" width="1.3" height="59.2" fill="#2e8b57"/>
<rect x="1370.83" y="298.7" width="6.5" height="37.2" fill="#2e8b57"/>
<rect x="1381.79" y="287.0" width="1.3" height="38.5" fill="#e50000"/>
<rect x="1379.19" y="297.9" width="6.5" height="12.0" fill="#e50000"/>
<rect x="1390.16" y="232.0" width="1.3" height="70.9" fill="#2e8b57"/>
<rect x="1387.56" y="243.0" width="6.5" height="57.9" fill="#2e8b57"/>
</g>
<g clip-path="url(#cr)">
<rect x="9.3" y="533.5" width="1468.7" height="62" fill="#7e57c2" fill-opacity="0.1"/>
<line x1="9.31" y1="533.6" x2="1478.0" y2="533.6" stroke="#7d808a" stroke-width="1.05" stroke-dasharray="4.6 5.289"/>
<line x1="9.31" y1="564.5" x2="1478.0" y2="564.5" stroke="#7d808a" stroke-width="1.05" stroke-dasharray="4.6 5.289"/>
<line x1="9.31" y1="595.5" x2="1478.0" y2="595.5" stroke="#7d808a" stroke-width="1.05" stroke-dasharray="4.6 5.289"/>
<polyline points="10.1,578.6 18.5,587.6 26.8,574.7 35.2,580.1 43.6,582.6 51.9,573.0 60.3,565.2 68.7,558.0 77.0,552.6 85.4,545.9 93.8,545.9 102.1,546.6 110.5,540.4 118.9,541.8 127.2,540.8 135.6,537.1 144.0,536.6 152.3,532.1 160.7,528.7 169.1,538.4 177.5,531.7 185.8,530.4 194.2,526.7 202.6,538.3 210.9,534.2 219.3,534.6 227.7,536.6 236.0,541.3 244.4,547.5 252.8,540.1 261.1,551.3 269.5,562.7 277.9,538.3 286.2,552.5 294.6,545.9 303.0,540.8 311.3,536.7 319.7,532.1 328.1,529.4 336.4,531.6 344.8,541.8 353.2,542.6 361.5,538.3 369.9,534.1 378.3,530.1 386.7,541.8 395.0,542.4 403.4,555.8 411.8,554.6 420.1,561.3 428.5,552.6 436.9,553.8 445.2,553.5 453.6,563.8 462.0,560.2 470.3,557.5 478.7,553.8 487.1,550.1 495.4,546.1 503.8,546.6 512.2,549.3 520.5,548.0 528.9,532.6 537.3,530.9 545.6,543.8 554.0,540.9 562.4,539.9 570.7,541.3 579.1,541.6 587.5,543.3 595.9,542.9 604.2,536.7 612.6,536.7 621.0,527.6 629.3,535.9 637.7,552.1 646.1,545.9 654.4,542.1 662.8,539.9 671.2,534.2 679.5,535.9 687.9,545.8 696.3,547.5 704.6,550.8 713.0,544.6 721.4,568.5 729.7,570.5 738.1,565.7 746.5,567.2 754.8,577.2 763.2,578.9 771.6,568.5 779.9,567.7 788.3,563.8 796.7,559.7 805.1,559.7 813.4,567.7 821.8,574.2 830.2,572.2 838.5,564.7 846.9,560.0 855.3,567.5 863.6,566.0 872.0,580.9 880.4,584.4 888.7,585.2 897.1,578.1 905.5,575.5 913.8,586.9 922.2,581.1 930.6,580.2 938.9,585.2 947.3,580.2 955.7,565.2 964.0,561.0 972.4,575.2 980.8,586.4 989.1,596.4 997.5,597.8 1005.9,600.3 1014.3,598.5 1022.6,601.8 1031.0,598.5 1039.4,593.1 1047.7,593.9 1056.1,596.9 1064.5,598.5 1072.8,593.6 1081.2,586.1 1089.6,579.4 1097.9,576.4 1106.3,577.7 1114.7,571.0 1123.0,575.2 1131.4,579.4 1139.8,575.2 1148.1,574.7 1156.5,583.6 1164.9,600.6 1173.2,583.4 1181.6,574.7 1190.0,580.1 1198.3,579.7 1206.7,596.4 1215.1,602.8 1223.5,603.1 1231.8,596.1 1240.2,601.1 1248.6,598.6 1256.9,599.8 1265.3,604.5 1273.7,594.4 1282.0,582.7 1290.4,587.3 1298.8,583.6 1307.1,588.4 1315.5,584.4 1323.9,578.9 1332.2,572.2 1340.6,573.9 1349.0,575.9 1357.3,580.9 1365.7,572.2 1374.1,563.8 1382.4,566.3 1390.8,552.6" fill="none" stroke="#7e57c2" stroke-width="1.1" stroke-linejoin="round"/>
</g>
<text x="16.4" y="534.1" font-size="10.8" fill="#3c3f48" textLength="35.8" lengthAdjust="spacingAndGlyphs" stroke="#3c3f48" stroke-width="0.25">RSI (14)</text>
<text x="59.9" y="534.1" font-size="10.8" fill="#7e57c2" textLength="26.2" lengthAdjust="spacingAndGlyphs" stroke="#7e57c2" stroke-width="0.25">57.34</text>
<g clip-path="url(#ca)">
<text x="1486.0" y="486.5" font-size="11" fill="#484b54" textLength="26.2" lengthAdjust="spacingAndGlyphs" stroke="#484b54" stroke-width="0.25">97.00</text>
<text x="1486.0" y="435.9" font-size="11" fill="#484b54" textLength="26.2" lengthAdjust="spacingAndGlyphs" stroke="#484b54" stroke-width="0.25">98.00</text>
<text x="1486.0" y="385.3" font-size="11" fill="#484b54" textLength="26.2" lengthAdjust="spacingAndGlyphs" stroke="#484b54" stroke-width="0.25">99.00</text>
<text x="1486.0" y="334.6" font-size="11" fill="#484b54" textLength="31.8" lengthAdjust="spacingAndGlyphs" stroke="#484b54" stroke-width="0.25">100.00</text>
<text x="1486.0" y="284.0" font-size="11" fill="#484b54" textLength="31.8" lengthAdjust="spacingAndGlyphs" stroke="#484b54" stroke-width="0.25">101.00</text>
<text x="1486.0" y="233.4" font-size="11" fill="#484b54" textLength="31.8" lengthAdjust="spacingAndGlyphs" stroke="#484b54" stroke-width="0.25">102.00</text>
<text x="1486.0" y="182.8" font-size="11" fill="#484b54" textLength="31.8" lengthAdjust="spacingAndGlyphs" stroke="#484b54" stroke-width="0.25">103.00</text>
<text x="1486.0" y="132.1" font-size="11" fill="#484b54" textLength="31.8" lengthAdjust="spacingAndGlyphs" stroke="#484b54" stroke-width="0.25">104.00</text>
<text x="1486.0" y="81.5" font-size="11" fill="#484b54" textLength="31.8" lengthAdjust="spacingAndGlyphs" stroke="#484b54" stroke-width="0.25">105.00</text>
<text x="1486.0" y="30.9" font-size="11" fill="#484b54" textLength="31.8" lengthAdjust="spacingAndGlyphs" stroke="#484b54" stroke-width="0.25">106.00</text>
</g>
<g clip-path="url(#cb)">
<text x="1486.0" y="522.0" font-size="11" fill="#484b54" textLength="26.2" lengthAdjust="spacingAndGlyphs" stroke="#484b54" stroke-width="0.25">80.00</text>
<text x="1486.0" y="553.0" font-size="11" fill="#484b54" textLength="26.2" lengthAdjust="spacingAndGlyphs" stroke="#484b54" stroke-width="0.25">60.00</text>
<text x="1486.0" y="584.3" font-size="11" fill="#484b54" textLength="26.2" lengthAdjust="spacingAndGlyphs" stroke="#484b54" stroke-width="0.25">40.00</text>
<text x="1486.0" y="615.0" font-size="11" fill="#484b54" textLength="26.2" lengthAdjust="spacingAndGlyphs" stroke="#484b54" stroke-width="0.25">20.00</text>
</g>
<rect x="1478.5" y="25.2" width="43.8" height="14.8" rx="1.5" fill="#4d8ff6"/>
<text x="1486.0" y="36.6" font-size="11" fill="#15171c" textLength="31.8" lengthAdjust="spacingAndGlyphs" stroke="#15171c" stroke-width="0.3">105.89</text>
<rect x="1478.5" y="43.4" width="43.8" height="14.8" rx="1.5" fill="#ffb74d"/>
<text x="1486.0" y="54.8" font-size="11" fill="#15171c" textLength="31.8" lengthAdjust="spacingAndGlyphs" stroke="#15171c" stroke-width="0.3">105.53</text>
<rect x="1478.5" y="73.1" width="43.8" height="14.8" rx="1.5" fill="#f23645"/>
<text x="1486.0" y="84.5" font-size="11" fill="#fff" font-weight="700" textLength="31.8" lengthAdjust="spacingAndGlyphs">104.95</text>
<rect x="1478.5" y="104.5" width="43.8" height="14.8" rx="1.5" fill="#ff9800"/>
<text x="1486.0" y="115.9" font-size="11" fill="#15171c" textLength="31.8" lengthAdjust="spacingAndGlyphs" stroke="#15171c" stroke-width="0.3">104.32</text>
<rect x="1478.5" y="121.5" width="43.8" height="14.8" rx="1.5" fill="#26c6da"/>
<text x="1486.0" y="132.9" font-size="11" fill="#15171c" textLength="31.8" lengthAdjust="spacingAndGlyphs" stroke="#15171c" stroke-width="0.3">103.99</text>
<rect x="1478.5" y="163.0" width="43.8" height="14.8" rx="1.5" fill="#2f6ef7"/>
<text x="1486.0" y="174.4" font-size="11" fill="#fff" font-weight="700" textLength="31.8" lengthAdjust="spacingAndGlyphs">103.18</text>
<rect x="1478.5" y="203.1" width="43.8" height="14.8" rx="1.5" fill="#9c27b0"/>
<text x="1486.0" y="214.5" font-size="11" fill="#fff" font-weight="700" textLength="31.8" lengthAdjust="spacingAndGlyphs">102.38</text>
<rect x="1478.5" y="220.4" width="43.8" height="14.8" rx="1.5" fill="#7e57c2"/>
<text x="1486.0" y="231.8" font-size="11" fill="#fff" font-weight="700" textLength="31.8" lengthAdjust="spacingAndGlyphs">101.90</text>
<rect x="1478.5" y="235.9" width="43.8" height="14.8" rx="1.5" fill="#2e8b57"/>
<text x="1486.0" y="247.3" font-size="11" fill="#fff" font-weight="700" textLength="31.8" lengthAdjust="spacingAndGlyphs">101.73</text>
<rect x="1478.5" y="312.0" width="43.8" height="14.8" rx="1.5" fill="#ffa726"/>
<text x="1486.0" y="323.4" font-size="11" fill="#15171c" textLength="31.8" lengthAdjust="spacingAndGlyphs" stroke="#15171c" stroke-width="0.3">100.22</text>
<rect x="1478.5" y="438.1" width="38.5" height="14.8" rx="1.5" fill="#ec407a"/>
<text x="1486.0" y="449.5" font-size="11" fill="#fff" font-weight="700" textLength="26.2" lengthAdjust="spacingAndGlyphs">97.73</text>
<rect x="1478.5" y="478.6" width="38.5" height="14.8" rx="1.5" fill="#9c27b0"/>
<text x="1486.0" y="490.0" font-size="11" fill="#fff" font-weight="700" textLength="26.2" lengthAdjust="spacingAndGlyphs">96.94</text>
<rect x="1478.5" y="546.0" width="38.5" height="14.8" rx="1.5" fill="#7e57c2"/>
<text x="1486.0" y="557.4" font-size="11" fill="#fff" font-weight="700" textLength="26.2" lengthAdjust="spacingAndGlyphs">57.34</text>
<text x="51.6" y="629.5" font-size="11" fill="#3c3f48" textLength="16.7" lengthAdjust="spacingAndGlyphs" stroke="#3c3f48" stroke-width="0.3">Oct</text>
<text x="130.0" y="629.5" font-size="11" fill="#3c3f48" textLength="10.6" lengthAdjust="spacingAndGlyphs" stroke="#3c3f48" stroke-width="0.3">14</text>
<text x="243.9" y="629.5" font-size="11" fill="#3c3f48" textLength="17.2" lengthAdjust="spacingAndGlyphs" stroke="#3c3f48" stroke-width="0.3">Nov</text>
<text x="322.5" y="629.5" font-size="11" fill="#3c3f48" textLength="10.6" lengthAdjust="spacingAndGlyphs" stroke="#3c3f48" stroke-width="0.3">14</text>
<text x="419.3" y="629.5" font-size="11" fill="#3c3f48" textLength="17.7" lengthAdjust="spacingAndGlyphs" stroke="#3c3f48" stroke-width="0.3">Dec</text>
<text x="498.1" y="629.5" font-size="11" fill="#3c3f48" textLength="10.8" lengthAdjust="spacingAndGlyphs" stroke="#3c3f48" stroke-width="0.3">13</text>
<text x="600.2" y="629.5" font-size="11" fill="#2a2d35" textLength="24.2" lengthAdjust="spacingAndGlyphs" stroke="#2a2d35" stroke-width="0.75">2025</text>
<text x="682.3" y="629.5" font-size="11" fill="#3c3f48" textLength="10.6" lengthAdjust="spacingAndGlyphs" stroke="#3c3f48" stroke-width="0.3">14</text>
<text x="796.2" y="629.5" font-size="11" fill="#3c3f48" textLength="17.2" lengthAdjust="spacingAndGlyphs" stroke="#3c3f48" stroke-width="0.3">Feb</text>
<text x="874.8" y="629.5" font-size="11" fill="#3c3f48" textLength="10.6" lengthAdjust="spacingAndGlyphs" stroke="#3c3f48" stroke-width="0.3">14</text>
<text x="963.7" y="629.5" font-size="11" fill="#3c3f48" textLength="16.9" lengthAdjust="spacingAndGlyphs" stroke="#3c3f48" stroke-width="0.3">Mar</text>
<text x="1042.1" y="629.5" font-size="11" fill="#3c3f48" textLength="10.6" lengthAdjust="spacingAndGlyphs" stroke="#3c3f48" stroke-width="0.3">14</text>
<text x="1139.6" y="629.5" font-size="11" fill="#3c3f48" textLength="16.4" lengthAdjust="spacingAndGlyphs" stroke="#3c3f48" stroke-width="0.3">Apr</text>
<text x="1217.9" y="629.5" font-size="11" fill="#3c3f48" textLength="10.6" lengthAdjust="spacingAndGlyphs" stroke="#3c3f48" stroke-width="0.3">14</text>
<text x="1322.8" y="629.5" font-size="11" fill="#3c3f48" textLength="18.2" lengthAdjust="spacingAndGlyphs" stroke="#3c3f48" stroke-width="0.3">May</text>
<text x="1401.9" y="629.5" font-size="11" fill="#3c3f48" textLength="10.6" lengthAdjust="spacingAndGlyphs" stroke="#3c3f48" stroke-width="0.3">14</text>
<g transform="translate(9.0,647.3) scale(0.487)" fill="#1c1e26"><path d="M14 22H7V11H0V4h14v18z"/><circle cx="20" cy="8" r="4"/><path d="M28 22h-8l7.5-18h8L28 22z"/></g>
<text x="29.8" y="657.9" font-size="11.2" fill="#22252e" textLength="63.2" lengthAdjust="spacingAndGlyphs" stroke="#22252e" stroke-width="0.22">TradingView</text>
</svg></body></html>
